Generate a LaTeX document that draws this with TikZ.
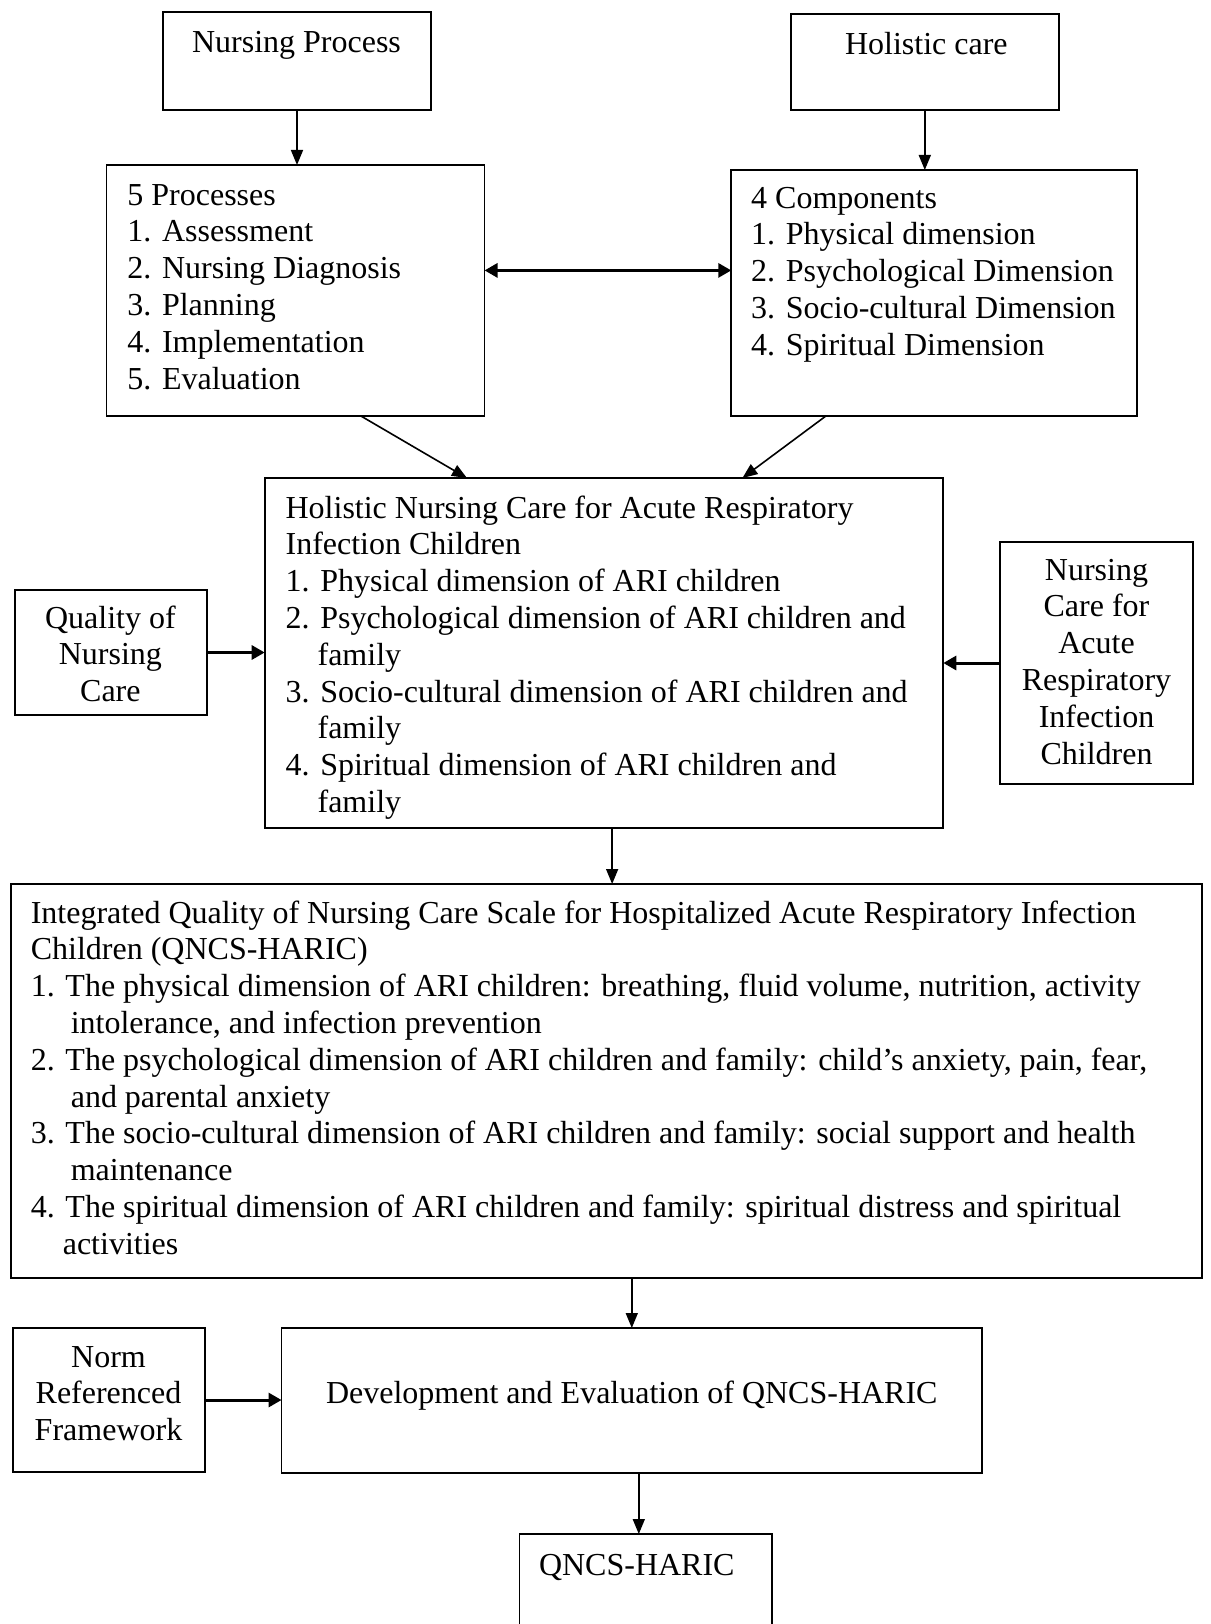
\documentclass[tikz,border=0pt]{standalone}
\usepackage{fontspec}
\setmainfont{Liberation Serif}
\usetikzlibrary{arrows.meta,calc}
\newcommand\lblk[1]{\begin{tabular}[t]{@{}l@{}}#1\end{tabular}}
\newcommand\cblk[1]{\begin{tabular}[t]{@{}c@{}}#1\end{tabular}}
\begin{document}
\begin{tikzpicture}[x=1pt,y=-1pt,
  box/.style={draw,line width=1.8pt,inner sep=0pt,outer sep=0pt},
  txt/.style={inner sep=0pt,outer sep=0pt,font=\fontsize{32}{36.8}\selectfont},
  arr/.style={line width=1.6pt,-{Triangle[length=15pt,width=12pt]}},
  tarr/.style={line width=3pt,-{Triangle[length=13pt,width=14pt]}},
  darr/.style={line width=3pt,{Triangle[length=13pt,width=14pt]}-{Triangle[length=13pt,width=14pt]}}
]
\useasboundingbox (0,0) rectangle (1210,1624);
\fill[white] (0,0) rectangle (1210,1624);
\clip (0,0) rectangle (1210,1624);

% boxes
\node[box,minimum width=267.7pt,minimum height=98pt] (np) at (297,61) {};
\node[box,minimum width=267.7pt,minimum height=96pt] (hc) at (924.8,62) {};
\node[box,minimum width=378.1pt,minimum height=251pt] (pr) at (295.5,290.5) {};
\node[box,minimum width=406pt,minimum height=246pt] (co) at (934.3,293) {};
\node[box,minimum width=678.6pt,minimum height=350pt] (hnc) at (604,653) {};
\node[box,minimum width=192pt,minimum height=125pt] (qnc) at (110.9,652.5) {};
\node[box,minimum width=193pt,minimum height=242pt] (nca) at (1096.5,663) {};
\node[box,minimum width=1191pt,minimum height=394pt] (iq) at (606.5,1081) {};
\node[box,minimum width=192pt,minimum height=144pt] (nrf) at (109,1400) {};
\node[box,minimum width=700.5pt,minimum height=145pt] (dev) at (631.8,1400.5) {};
\node[box,minimum width=252.7pt,minimum height=180pt] (qn) at (645.8,1624) {};

% texts
\node[txt,anchor=base] (tnp) at (296.5,53) {Nursing Process};
\node[txt,anchor=base] (thc) at (926.3,55) {Holistic care};
\node[txt,anchor=base west] (tpr) at (127.4,205) {\lblk{5 Processes\\1. Assessment\\2. Nursing Diagnosis\\3. Planning\\4. Implementation\\5. Evaluation}};
\node[txt,anchor=base west] (tco) at (751.2,208) {\lblk{4 Components\\1. Physical dimension\\2. Psychological Dimension\\3. Socio-cultural Dimension\\4. Spiritual Dimension}};
\node[txt,anchor=base west] (thnc) at (285.6,518) {\lblk{Holistic Nursing Care for Acute Respiratory\\Infection Children\\1. Physical dimension of ARI children\\2. Psychological dimension of ARI children and\\\hspace*{32pt}family\\3. Socio-cultural dimension of ARI children and\\\hspace*{32pt}family\\4. Spiritual dimension of ARI children and\\\hspace*{32pt}family}};
\node[txt,anchor=base] (tqnc) at (110.4,628) {\cblk{Quality of\\Nursing\\Care}};
\node[txt,anchor=base] (tnca) at (1096.5,580) {\cblk{Nursing\\Care for\\Acute\\Respiratory\\Infection\\Children}};
\node[txt,anchor=base west] (tiq) at (30.8,923) {\lblk{Integrated Quality of Nursing Care Scale for Hospitalized Acute Respiratory Infection\\Children (QNCS-HARIC)\\1. The physical dimension of ARI children: breathing, fluid volume, nutrition, activity\\\hspace*{40pt}intolerance, and infection prevention\\2. The psychological dimension of ARI children and family: child’s anxiety, pain, fear,\\\hspace*{40pt}and parental anxiety\\3. The socio-cultural dimension of ARI children and family: social support and health\\\hspace*{40pt}maintenance\\4. The spiritual dimension of ARI children and family: spiritual distress and spiritual\\\hspace*{32pt}activities}};
\node[txt,anchor=base] (tnrf) at (108.5,1367) {\cblk{Norm\\Referenced\\Framework}};
\node[txt,anchor=base] (tdev) at (631.8,1403) {Development and Evaluation of QNCS-HARIC};
\node[txt,anchor=base] (tqn) at (636.8,1575) {QNCS-HARIC};

% connectors
\draw[arr] (np.south) -- (np.south |- pr.north);
\draw[arr] (hc.south) -- (hc.south |- co.north);
\coordinate (dl) at ($(pr.north east)!0.42!(pr.south east)$);
\draw[darr] (dl) -- (dl -| co.west);
\coordinate (p1) at ($(pr.south west)!0.673!(pr.south east)$);
\coordinate (h1) at ($(hnc.north west)!0.298!(hnc.north east)$);
\draw[arr] (p1) -- (h1);
\coordinate (c1) at ($(co.south west)!0.233!(co.south east)$);
\coordinate (h2) at ($(hnc.north west)!0.704!(hnc.north east)$);
\draw[arr] (c1) -- (h2);
\draw[tarr] (qnc.east) -- (qnc.east -| hnc.west);
\draw[tarr] (nca.west) -- (nca.west -| hnc.east);
\coordinate (h3) at ($(hnc.south west)!0.512!(hnc.south east)$);
\draw[arr] (h3) -- (h3 |- iq.north);
\draw[arr] (dev.north |- iq.south) -- (dev.north);
\draw[tarr] (nrf.east) -- (nrf.east -| dev.west);
\coordinate (d1) at ($(dev.south west)!0.51!(dev.south east)$);
\draw[arr] (d1) -- (d1 |- qn.north);
\end{tikzpicture}
\end{document}
